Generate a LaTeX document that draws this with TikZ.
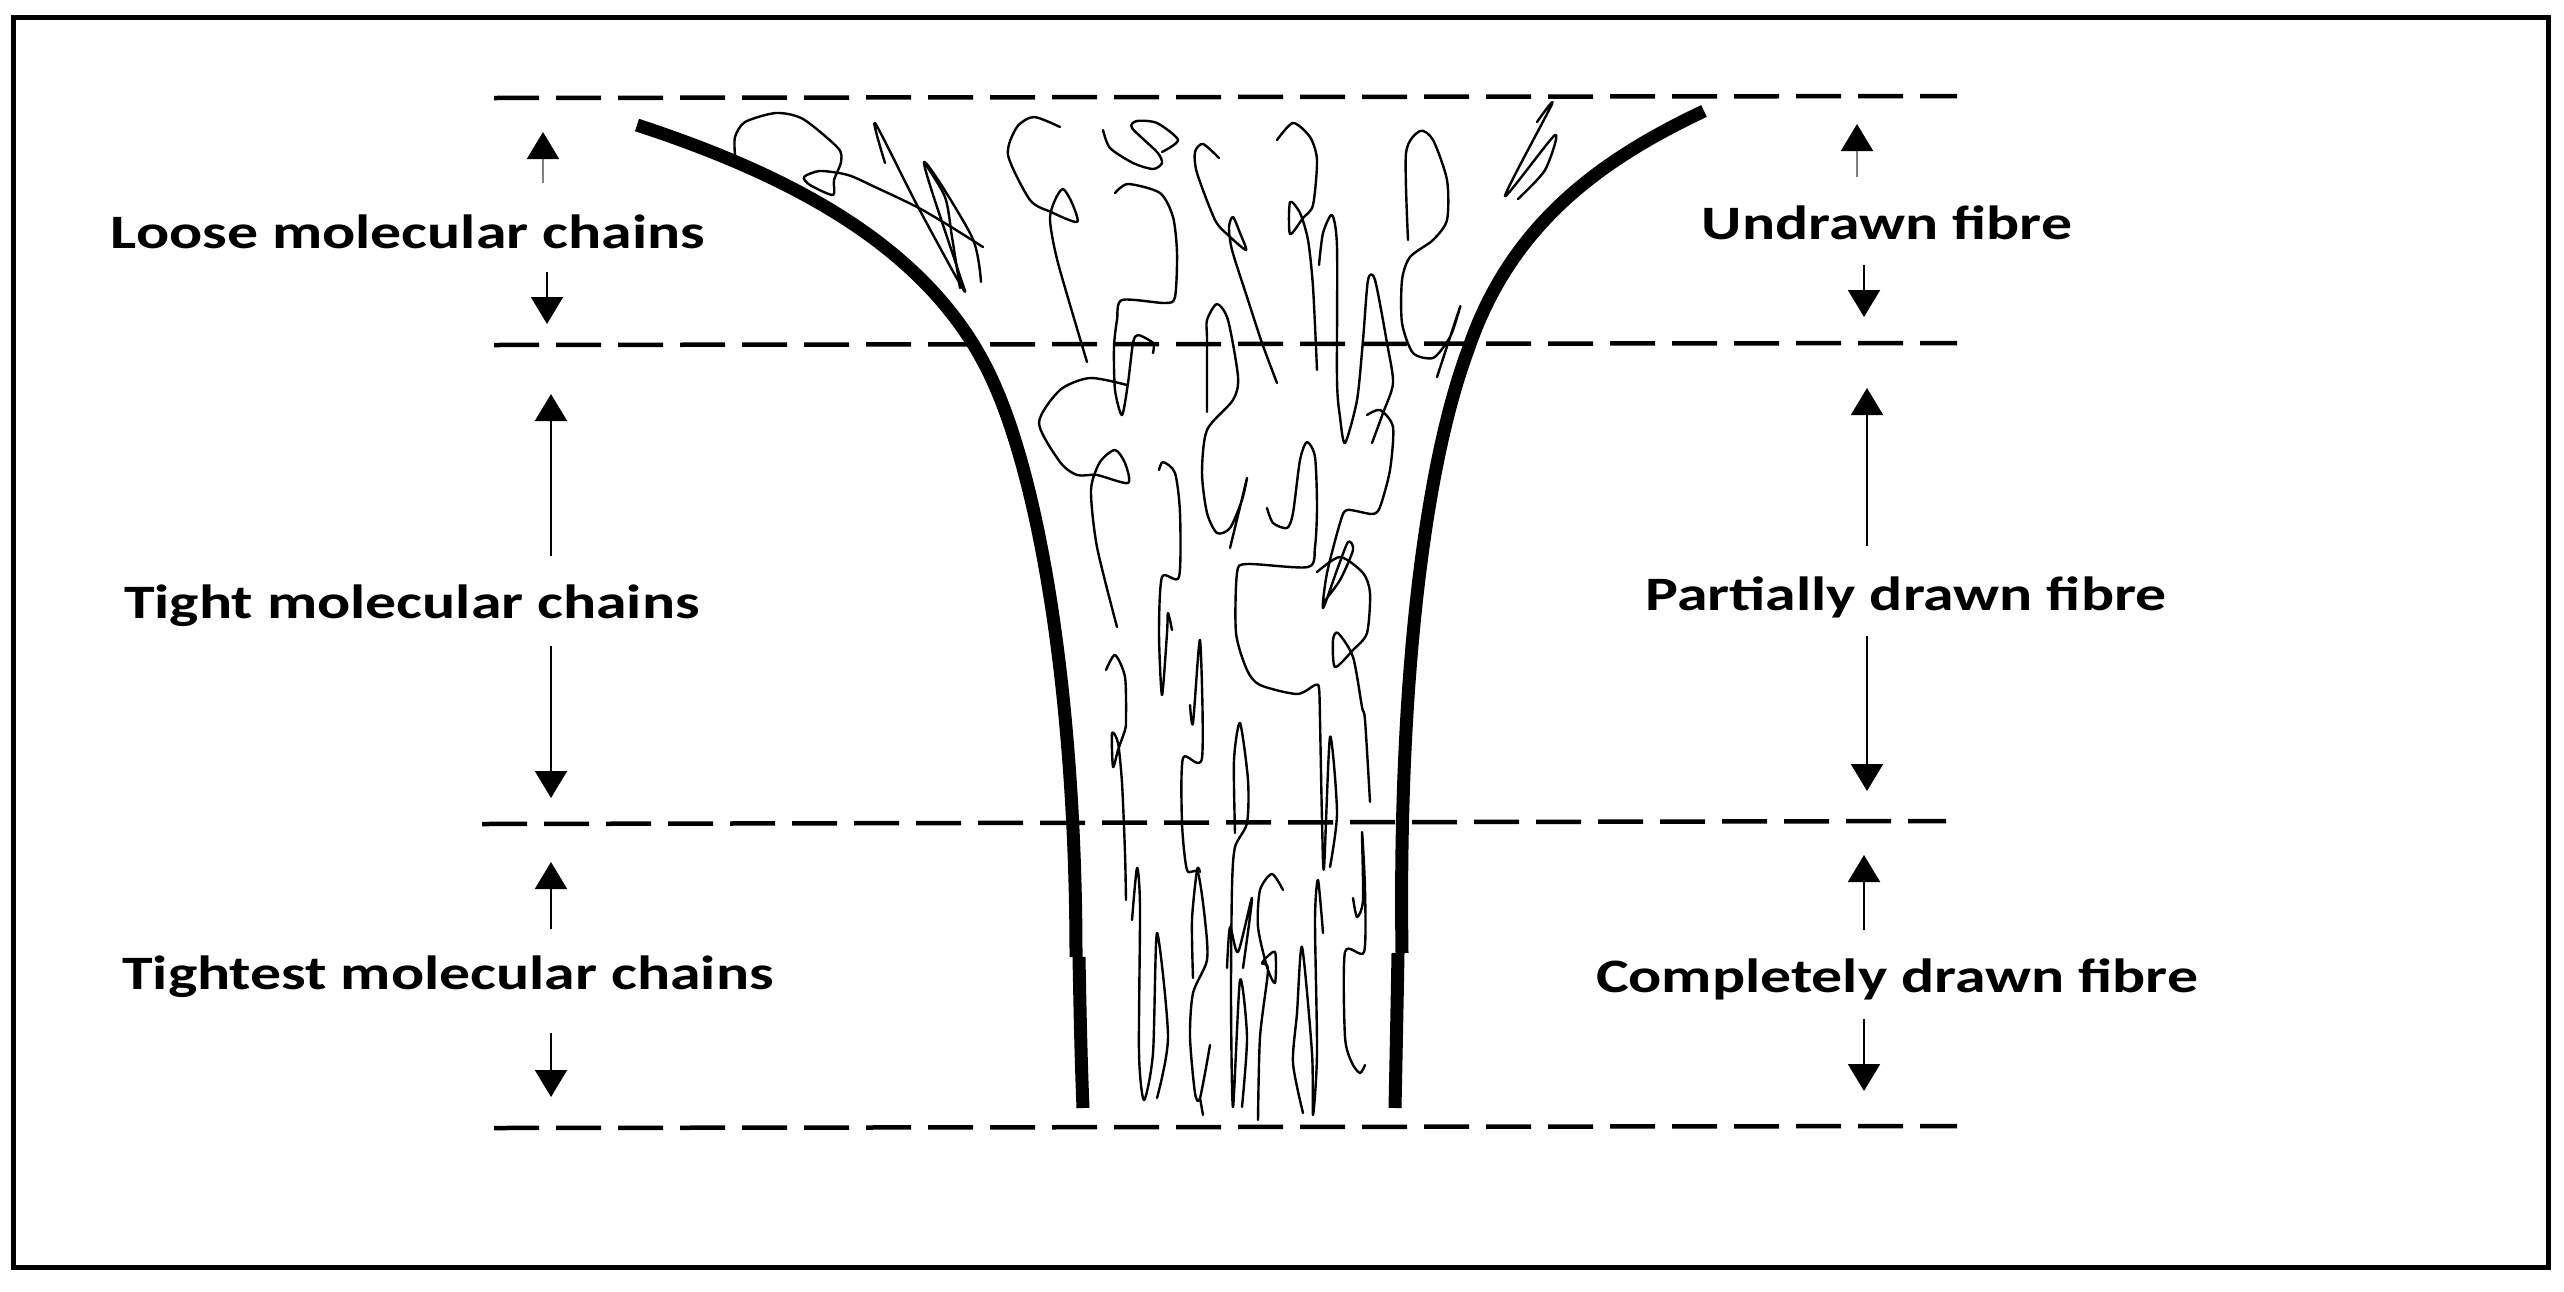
\documentclass[tikz,border=0pt]{standalone}
\usepackage{fontspec}
\setmainfont{Carlito}[FakeStretch=1.287]
\usetikzlibrary{arrows.meta}
\tikzset{
  thin line/.style={line width=2.4pt,black,line join=round,line cap=round},
  thick wall/.style={line width=13pt,black,line join=round},
  dash rule/.style={line width=4.5pt,black,dash pattern=on 45pt off 17pt},
  frame box/.style={line width=5pt,black},
  lab/.style={font=\bfseries\fontsize{48pt}{50pt}\selectfont,inner sep=0pt,anchor=center},
  dim arrow/.style={line width=2pt,-{Triangle[length=27pt,width=32pt,color=black]}},
}
\newcommand{\dimarrow}[5][black]{\coordinate (#2-a) at (#3,#4);\coordinate (#2-b) at (#3,#5);\draw[dim arrow,draw=#1] (#2-a) -- (#2-b);}
\newcommand{\sq}[1]{\draw[thin line] plot[smooth,tension=.45] coordinates {#1};}
\begin{document}
\begin{tikzpicture}[x=1pt,y=-1pt]
\useasboundingbox (0,0) rectangle (2564,1291);
\fill[white] (0,0) rectangle (2564,1291);
\draw[frame box] (13,17) rectangle (2548,1267.5);
% dashed rules
\coordinate (r1a) at (494,98);\coordinate (r1b) at (1957,96);
\coordinate (r2a) at (494,345);\coordinate (r2b) at (1957,343);
\coordinate (r3a) at (482,824);\coordinate (r3b) at (1946,821);
\coordinate (r4a) at (494,1128);\coordinate (r4b) at (1957,1126);
\draw[dash rule] (r1a) -- (r1b);
\draw[dash rule] (r2a) -- (r2b);
\draw[dash rule] (r3a) -- (r3b);
\draw[dash rule] (r4a) -- (r4b);
% walls
\draw[thick wall] (637,125) .. controls (780,172) and (920,240) .. (985,365) .. controls (1040,470) and (1076,700) .. (1076,957);
\draw[thick wall] (1079,957) .. controls (1080,1010) and (1081,1060) .. (1083,1108);
\draw[thick wall] (1704,111) .. controls (1600,160) and (1510,225) .. (1468,350) .. controls (1425,465) and (1398,680) .. (1402,953);
\draw[thick wall] (1398,953) .. controls (1397,1010) and (1396,1060) .. (1395,1108);
% chains
\sq{(735,155) (735,137) (745,122) (776,113) (803,119) (838,148) (841,162) (834,180) (833,195) (810,185) (804,177) (820,171) (848,175) (875,187) (917,207) (948,225) (983,247)}
\sq{(885,163) (875,123) (917,205) (963,289) (958,270) (924,162) (972,237) (981,282)}
\sq{(924,162) (945,197) (952,237) (960,288)}
\sq{(1060,127) (1034,117) (1017,127) (1008,155) (1030,200) (1051,212) (1077,222) (1072,203) (1063,189) (1055,200) (1050,220) (1058,263) (1087,362)}
\sq{(1103,130) (1110,148) (1133,163) (1153,169) (1162,163) (1157,152) (1132,128) (1137,121) (1157,123) (1178,140) (1162,152)}
\sq{(1115,193) (1128,184) (1160,193) (1173,217) (1177,253) (1175,297) (1165,303) (1122,300) (1117,320) (1114,347) (1115,390) (1122,415) (1128,383) (1133,343) (1138,335) (1153,343) (1153,353)}
\sq{(1219,158) (1203,144) (1195,152) (1197,173) (1215,220) (1228,235) (1246,250) (1240,233) (1233,217) (1229,227) (1232,250) (1247,297) (1262,343) (1277,383)}
\sq{(1277,140) (1293,123) (1310,137) (1317,160) (1313,205) (1303,218) (1290,234) (1290,202) (1300,213) (1308,240) (1313,287) (1317,370)}
\sq{(1319,265) (1323,233) (1332,215) (1337,247) (1337,380) (1340,417) (1345,443) (1357,400) (1363,340) (1368,280) (1375,280) (1387,343) (1393,383) (1383,413) (1372,443)}
\sq{(1408,240) (1406,153) (1420,131) (1433,140) (1447,180) (1447,220) (1433,240) (1410,257) (1402,280) (1402,323) (1413,353) (1433,358) (1447,342) (1453,330) (1460,307) (1437,377)}
\sq{(1207,412) (1207,340) (1207,320) (1217,304) (1228,320) (1238,377) (1233,400) (1207,430) (1202,473) (1207,513) (1217,533) (1230,528) (1242,500) (1247,478) (1240,507) (1230,548)}
\sq{(1127,385) (1090,378) (1060,390) (1039,423) (1060,462) (1077,475) (1097,475) (1128,483) (1125,463) (1115,450) (1100,462) (1091,490) (1097,547) (1117,627)}
\sq{(1159,470) (1163,462) (1175,473) (1180,513) (1179,577) (1162,577) (1159,633) (1162,695) (1167,633) (1168,613) (1172,630)}
\sq{(1267,508) (1273,523) (1287,528) (1293,513) (1300,460) (1307,442) (1315,457) (1317,507) (1315,547) (1308,567) (1247,564) (1237,573) (1236,633) (1247,670) (1260,685) (1297,694) (1315,685) (1319,688) (1320,720) (1322,820) (1324,868) (1330,737) (1337,813) (1330,867)}
\sq{(1367,415) (1380,410) (1393,427) (1390,470) (1380,507) (1372,514) (1347,510) (1340,523) (1327,573) (1323,608) (1337,570) (1348,542) (1353,550) (1340,580) (1323,603)}
\sq{(1317,572) (1340,557) (1363,573) (1370,593) (1367,633) (1353,650) (1335,667) (1333,640) (1338,633) (1353,657) (1362,707) (1365,720) (1370,802)}
\sq{(1106,670) (1115,655) (1125,677) (1126,720) (1125,730) (1118,750) (1113,767) (1112,733) (1118,743) (1122,783) (1125,853) (1126,900)}
\sq{(1132,920) (1137,868) (1140,907) (1139,1053) (1144,1100) (1153,1053) (1157,933) (1168,1037) (1157,1098)}
\sq{(1190,705) (1193,723) (1200,640) (1202,758) (1183,758) (1182,823) (1187,870) (1198,873) (1205,920) (1207,960) (1193,993) (1190,1037) (1195,1093) (1200,1098) (1210,1045)}
\sq{(1203,1115) (1200,1098)}
\sq{(1193,978) (1192,920) (1197,870) (1200,872)}
\sq{(1235,833) (1234,760) (1240,723) (1248,780) (1247,823) (1235,847) (1232,887) (1231,1000) (1233,1107) (1240,980) (1247,1037) (1242,1107)}
\sq{(1227,968) (1230,927) (1238,952) (1252,898) (1243,968)}
\sq{(1283,890) (1272,874) (1260,890) (1258,927) (1267,967) (1275,983) (1275,952) (1262,963) (1268,970) (1260,1037) (1258,1120)}
\sq{(1303,1113) (1293,1063) (1297,1013) (1302,947) (1312,1053) (1313,1115) (1317,1053) (1315,920) (1318,880) (1323,933)}
\sq{(1353,898) (1357,917) (1363,900) (1362,832) (1365,890) (1364,952) (1345,952) (1345,1037) (1352,1063) (1360,1073) (1365,1065)}
\sq{(1537,122) (1552,104) (1505,196) (1555,135) (1545,170) (1518,199)}
% labels
\node[lab] (t1) at (408,232) {Loose molecular chains};
\node[lab] (t2) at (412,606) {Tight molecular chains};
\node[lab] (t3) at (448,977) {Tightest molecular chains};
\node[lab] (t4) at (1887,223) {Undrawn fibre};
\node[lab] (t5) at (1906,597) {Partially drawn fibre};
\node[lab] (t6) at (1897,979) {Completely drawn fibre};
% arrows
\dimarrow[gray]{a1}{543}{183}{132}
\dimarrow{a2}{547}{272}{324}
\dimarrow{a3}{551}{556}{394}
\dimarrow{a4}{551}{646}{798}
\dimarrow{a5}{551}{929}{862}
\dimarrow{a6}{551}{1033}{1097}
\dimarrow[gray]{b1}{1857}{177}{124}
\dimarrow{b2}{1864}{265}{317}
\dimarrow{b3}{1867}{546}{388}
\dimarrow{b4}{1867}{636}{791}
\dimarrow{b5}{1864}{930}{855}
\dimarrow{b6}{1864}{1019}{1091}
\end{tikzpicture}
\end{document}
